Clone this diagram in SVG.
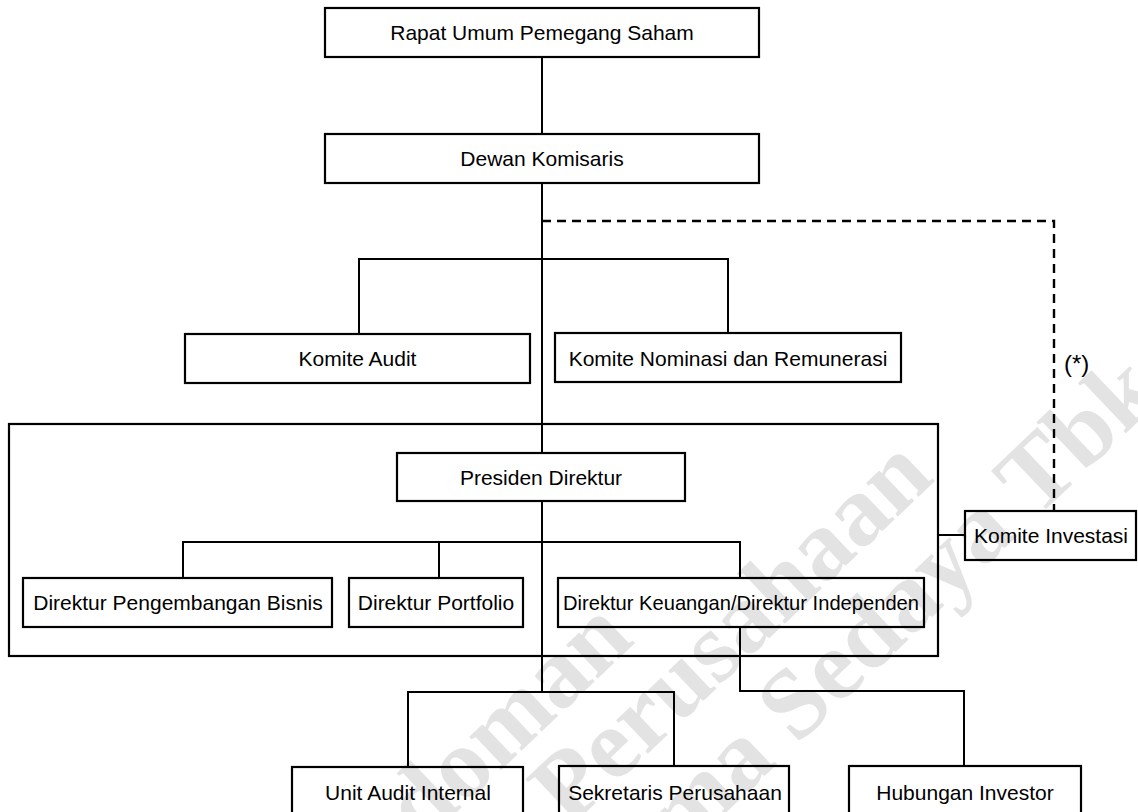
<svg xmlns="http://www.w3.org/2000/svg" width="1138" height="812" viewBox="0 0 1138 812">
<style>
.box{fill:none;stroke:#000;stroke-width:2.2}
.ln{fill:none;stroke:#000;stroke-width:2}
.dash{fill:none;stroke:#000;stroke-width:2.4;stroke-dasharray:9 6}
.t{font-family:"Liberation Sans",Arial,sans-serif;font-size:21px;fill:#000;text-anchor:middle}
.wm{font-family:"Liberation Serif","Times New Roman",serif;font-weight:bold;font-size:100px;fill:#e3e3e3;text-anchor:end}
</style>
<rect width="1138" height="812" fill="#fff"/>
<g id="watermark">
<text class="wm" transform="translate(636,642) rotate(-43.5)">Pedoman</text>
<text class="wm" transform="translate(936,480) rotate(-43.5)">Perusahaan</text>
<text class="wm" transform="translate(1164,397) rotate(-43.5)">Investama Sedaya Tbk</text>
</g>
<g id="connectors">
<path class="ln" d="M542,57 V134"/>
<path class="ln" d="M542,183 V453"/>
<path class="ln" d="M359,334 V259 H728 V333"/>
<path class="dash" d="M542,221 H1054 V511"/>
<path class="ln" d="M542,501 V692"/>
<path class="ln" d="M183,578 V542 H740 V578"/>
<path class="ln" d="M439,542 V578"/>
<path class="ln" d="M408,767 V692 H674 V766"/>
<path class="ln" d="M740,627 V691 H964 V766"/>
<path class="ln" d="M938,535 H965"/>
<text class="t" x="1064" y="372" style="text-anchor:start;font-size:24px">(*)</text>
</g>
<g id="rups"><rect class="box" x="325" y="8" width="434" height="49"/><text class="t" x="542" y="40">Rapat Umum Pemegang Saham</text></g>
<g id="dewan-komisaris"><rect class="box" x="325" y="134" width="434" height="49"/><text class="t" x="542" y="166">Dewan Komisaris</text></g>
<g id="komite-audit"><rect class="box" x="185" y="334" width="345" height="49"/><text class="t" x="357.5" y="366">Komite Audit</text></g>
<g id="komite-nominasi"><rect class="box" x="555" y="333" width="346" height="49"/><text class="t" x="728" y="366">Komite Nominasi dan Remunerasi</text></g>
<g id="direksi"><rect class="box" x="9" y="424" width="929" height="232"/></g>
<g id="presiden-direktur"><rect class="box" x="397" y="453" width="288" height="48"/><text class="t" x="541" y="485">Presiden Direktur</text></g>
<g id="direktur-pengembangan"><rect class="box" x="23" y="578" width="309" height="49"/><text class="t" x="178" y="610">Direktur Pengembangan Bisnis</text></g>
<g id="direktur-portfolio"><rect class="box" x="349" y="578" width="174" height="49"/><text class="t" x="436" y="610">Direktur Portfolio</text></g>
<g id="direktur-keuangan"><rect class="box" x="558" y="578" width="366" height="49"/><text class="t" x="741" y="610" textLength="356" lengthAdjust="spacingAndGlyphs">Direktur Keuangan/Direktur Independen</text></g>
<g id="komite-investasi"><rect class="box" x="965" y="511" width="171" height="49"/><text class="t" x="1051" y="543">Komite Investasi</text></g>
<g id="unit-audit-internal"><rect class="box" x="292" y="767" width="231" height="60"/><text class="t" x="408" y="800">Unit Audit Internal</text></g>
<g id="sekretaris-perusahaan"><rect class="box" x="559" y="766" width="230" height="60"/><text class="t" x="675" y="800">Sekretaris Perusahaan</text></g>
<g id="hubungan-investor"><rect class="box" x="849" y="766" width="232" height="60"/><text class="t" x="965" y="800">Hubungan Investor</text></g>
</svg>
